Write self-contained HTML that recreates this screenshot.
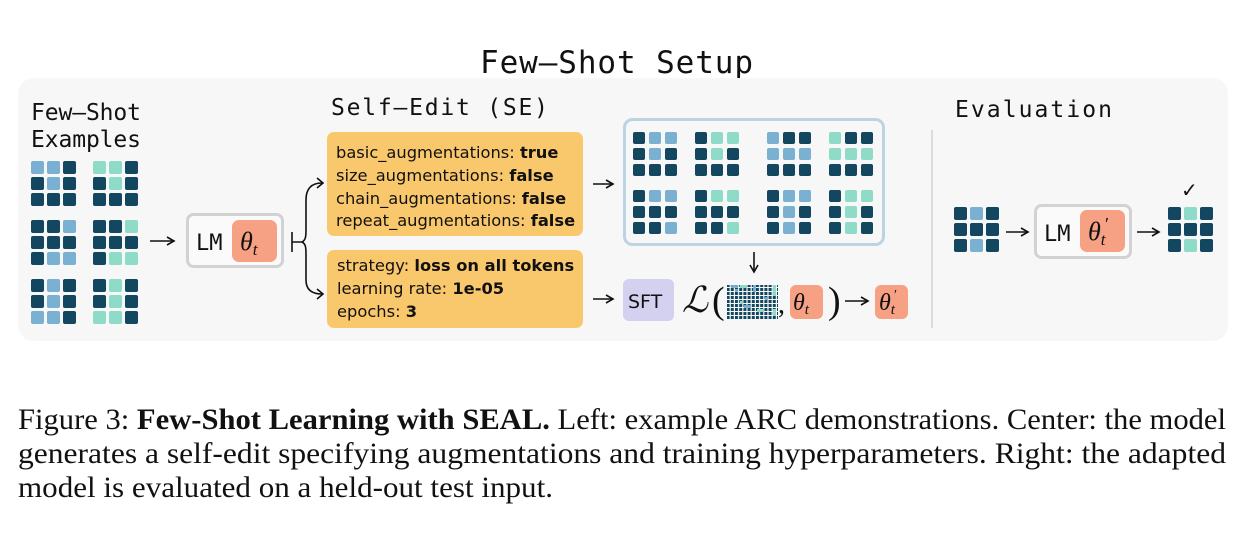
<!DOCTYPE html>
<html><head><meta charset="utf-8"><style>
html,body{margin:0;padding:0;background:#fff;width:1256px;height:533px;overflow:hidden}
.m{font-family:"DejaVu Sans Mono","Liberation Mono",monospace}
.s{font-family:"DejaVu Sans","Liberation Sans",sans-serif}
.r{font-family:"Liberation Serif",serif}
.th{font-family:"Liberation Serif",serif;font-style:italic}
</style></head><body>
<svg width="1256" height="533" viewBox="0 0 1256 533" xmlns="http://www.w3.org/2000/svg">
<defs>
<rect id="D" width="13" height="13" rx="2" fill="#13475f"/>
<rect id="B" width="13" height="13" rx="2" fill="#7ab0d2"/>
<rect id="T" width="13" height="13" rx="2" fill="#8edcc7"/>
<rect id="d" width="12" height="12" rx="2" fill="#13475f"/>
<rect id="b" width="12" height="12" rx="2" fill="#7ab0d2"/>
<rect id="t" width="12" height="12" rx="2" fill="#8edcc7"/>
<pattern id="pg" width="4.2" height="4" patternUnits="userSpaceOnUse"><rect width="3" height="3" fill="#13475f"/></pattern>
<marker id="ah" markerWidth="10" markerHeight="10" refX="8" refY="5" orient="auto" markerUnits="userSpaceOnUse"><path d="M1,1 L8,5 L1,9" fill="none" stroke="#111" stroke-width="1.6"/></marker>
</defs>
<text x="480" y="73" class="m" font-size="31" textLength="273" fill="#111">Few–Shot Setup</text>
<rect x="18" y="78" width="1210" height="263" rx="16" fill="#f7f7f7"/>
<text x="31" y="120" class="m" font-size="23" textLength="110" fill="#111">Few–Shot</text>
<text x="31" y="147" class="m" font-size="23" textLength="110" fill="#111">Examples</text>
<text x="331" y="115" class="m" font-size="23" textLength="217" fill="#111">Self–Edit (SE)</text>
<text x="955" y="117" class="m" font-size="23" textLength="157" fill="#111">Evaluation</text>

<g transform="translate(31,161)"><use href="#B"/><use href="#B" x="16"/><use href="#D" x="32"/><use href="#D" y="16"/><use href="#B" x="16" y="16"/><use href="#D" x="32" y="16"/><use href="#D" y="32"/><use href="#D" x="16" y="32"/><use href="#D" x="32" y="32"/></g>
<g transform="translate(93,161)"><use href="#T"/><use href="#T" x="16"/><use href="#D" x="32"/><use href="#D" y="16"/><use href="#T" x="16" y="16"/><use href="#D" x="32" y="16"/><use href="#D" y="32"/><use href="#D" x="16" y="32"/><use href="#D" x="32" y="32"/></g>
<g transform="translate(31,220)"><use href="#D"/><use href="#D" x="16"/><use href="#B" x="32"/><use href="#D" y="16"/><use href="#D" x="16" y="16"/><use href="#D" x="32" y="16"/><use href="#D" y="32"/><use href="#B" x="16" y="32"/><use href="#B" x="32" y="32"/></g>
<g transform="translate(93,220)"><use href="#D"/><use href="#D" x="16"/><use href="#T" x="32"/><use href="#D" y="16"/><use href="#D" x="16" y="16"/><use href="#D" x="32" y="16"/><use href="#D" y="32"/><use href="#T" x="16" y="32"/><use href="#T" x="32" y="32"/></g>
<g transform="translate(31,279)"><use href="#D"/><use href="#B" x="16"/><use href="#D" x="32"/><use href="#D" y="16"/><use href="#B" x="16" y="16"/><use href="#D" x="32" y="16"/><use href="#B" y="32"/><use href="#B" x="16" y="32"/><use href="#D" x="32" y="32"/></g>
<g transform="translate(93,279)"><use href="#D"/><use href="#T" x="16"/><use href="#D" x="32"/><use href="#D" y="16"/><use href="#T" x="16" y="16"/><use href="#D" x="32" y="16"/><use href="#T" y="32"/><use href="#T" x="16" y="32"/><use href="#D" x="32" y="32"/></g>

<line x1="150" y1="241" x2="174" y2="241" stroke="#111" stroke-width="1.6" marker-end="url(#ah)"/>
<rect x="187.5" y="214.5" width="95" height="52" rx="6" fill="#fafafa" stroke="#d2d2d2" stroke-width="3"/>
<text x="196" y="250" class="m" font-size="22" fill="#111">LM</text>
<rect x="232" y="220" width="45" height="42" rx="7" fill="#f6a084"/>
<text x="240" y="250" class="th" font-size="26" fill="#111">θ<tspan font-size="17" dy="5">t</tspan></text>

<path d="M292,232 L292,252 M292,242 L302,242 C306,240 306,236 306,228 L306,200 C306,188 312,183 322,183 M302,242 C306,244 306,248 306,256 L306,280 C306,290 312,294 322,294" fill="none" stroke="#111" stroke-width="1.6"/>
<path d="M317,178 L323,183 L317,188 M317,289 L323,294 L317,299" fill="none" stroke="#111" stroke-width="1.6"/>

<rect x="327" y="132" width="256" height="104" rx="7" fill="#f9c86c"/>
<g class="s" font-size="16.3" fill="#111">
<text x="336" y="158">basic_augmentations: <tspan font-weight="bold">true</tspan></text>
<text x="336" y="181">size_augmentations: <tspan font-weight="bold">false</tspan></text>
<text x="336" y="204">chain_augmentations: <tspan font-weight="bold">false</tspan></text>
<text x="336" y="226">repeat_augmentations: <tspan font-weight="bold">false</tspan></text>
</g>
<rect x="327" y="250" width="256" height="78" rx="7" fill="#f9c86c"/>
<g class="s" font-size="16.3" fill="#111">
<text x="337" y="271">strategy: <tspan font-weight="bold">loss on all tokens</tspan></text>
<text x="337" y="294">learning rate: <tspan font-weight="bold">1e-05</tspan></text>
<text x="337" y="317">epochs: <tspan font-weight="bold">3</tspan></text>
</g>
<line x1="593" y1="184" x2="613" y2="184" stroke="#111" stroke-width="1.6" marker-end="url(#ah)"/>
<line x1="593" y1="299" x2="613" y2="299" stroke="#111" stroke-width="1.6" marker-end="url(#ah)"/>

<rect x="624.5" y="119.5" width="259" height="125" rx="8" fill="#f7f7f7" stroke="#bcd3e2" stroke-width="3"/>
<g transform="translate(633,132)"><use href="#d"/><use href="#b" x="16"/><use href="#b" x="32"/><use href="#d" y="16"/><use href="#b" x="16" y="16"/><use href="#d" x="32" y="16"/><use href="#d" y="32"/><use href="#d" x="16" y="32"/><use href="#d" x="32" y="32"/></g>
<g transform="translate(695,132)"><use href="#d"/><use href="#t" x="16"/><use href="#t" x="32"/><use href="#d" y="16"/><use href="#t" x="16" y="16"/><use href="#d" x="32" y="16"/><use href="#d" y="32"/><use href="#d" x="16" y="32"/><use href="#d" x="32" y="32"/></g>
<g transform="translate(767,132)"><use href="#b"/><use href="#d" x="16"/><use href="#d" x="32"/><use href="#b" y="16"/><use href="#b" x="16" y="16"/><use href="#b" x="32" y="16"/><use href="#d" y="32"/><use href="#d" x="16" y="32"/><use href="#d" x="32" y="32"/></g>
<g transform="translate(829,132)"><use href="#t"/><use href="#d" x="16"/><use href="#d" x="32"/><use href="#t" y="16"/><use href="#t" x="16" y="16"/><use href="#t" x="32" y="16"/><use href="#d" y="32"/><use href="#d" x="16" y="32"/><use href="#d" x="32" y="32"/></g>
<g transform="translate(633,190)"><use href="#d"/><use href="#b" x="16"/><use href="#b" x="32"/><use href="#d" y="16"/><use href="#d" x="16" y="16"/><use href="#d" x="32" y="16"/><use href="#d" y="32"/><use href="#d" x="16" y="32"/><use href="#b" x="32" y="32"/></g>
<g transform="translate(695,190)"><use href="#d"/><use href="#t" x="16"/><use href="#t" x="32"/><use href="#d" y="16"/><use href="#d" x="16" y="16"/><use href="#d" x="32" y="16"/><use href="#d" y="32"/><use href="#d" x="16" y="32"/><use href="#t" x="32" y="32"/></g>
<g transform="translate(767,190)"><use href="#d"/><use href="#b" x="16"/><use href="#b" x="32"/><use href="#d" y="16"/><use href="#b" x="16" y="16"/><use href="#d" x="32" y="16"/><use href="#d" y="32"/><use href="#b" x="16" y="32"/><use href="#d" x="32" y="32"/></g>
<g transform="translate(829,190)"><use href="#d"/><use href="#t" x="16"/><use href="#t" x="32"/><use href="#d" y="16"/><use href="#t" x="16" y="16"/><use href="#d" x="32" y="16"/><use href="#d" y="32"/><use href="#t" x="16" y="32"/><use href="#d" x="32" y="32"/></g>

<line x1="754" y1="252" x2="754" y2="272" stroke="#111" stroke-width="1.6" marker-end="url(#ah)"/>

<rect x="623" y="279" width="51" height="42" rx="6" fill="#d3d0f0"/>
<text x="628" y="308" class="s" font-size="19" fill="#111">SFT</text>
<text x="682" y="312" class="th" font-size="36" fill="#111">ℒ</text>
<text x="712" y="313" class="r" font-size="38" fill="#111">(</text>
<rect x="727" y="285" width="51" height="34" fill="url(#pg)"/>
<g fill="#7ab0d2" opacity="0.9"><rect x="731" y="285" width="7" height="3"/><rect x="735" y="289" width="3" height="3"/><rect x="753" y="285" width="3" height="7"/><rect x="744" y="305" width="7" height="3"/><rect x="765" y="297" width="3" height="3"/></g>
<g fill="#8edcc7"><rect x="740" y="285" width="7" height="3"/><rect x="773" y="285" width="3" height="11"/><rect x="740" y="301" width="3" height="3"/><rect x="757" y="309" width="7" height="3"/><rect x="773" y="309" width="3" height="7"/></g>
<text x="778" y="313" class="r" font-size="28" fill="#111">,</text>
<rect x="790" y="285" width="33" height="34" rx="6" fill="#f6a084"/>
<text x="793" y="310" class="th" font-size="24" fill="#111">θ<tspan font-size="15" dy="4">t</tspan></text>
<text x="828" y="313" class="r" font-size="38" fill="#111">)</text>
<line x1="845" y1="301" x2="868" y2="301" stroke="#111" stroke-width="1.6" marker-end="url(#ah)"/>
<rect x="875" y="285" width="33" height="34" rx="6" fill="#f6a084"/>
<text x="879" y="310" class="th" font-size="24" fill="#111">θ<tspan font-size="15" dy="4">t</tspan></text>
<text x="894" y="299" class="r" font-size="14" fill="#111">′</text>

<line x1="932" y1="130" x2="932" y2="328" stroke="#dcdcdc" stroke-width="2"/>

<g transform="translate(954,207)"><use href="#D"/><use href="#B" x="16"/><use href="#D" x="32"/><use href="#D" y="16"/><use href="#D" x="16" y="16"/><use href="#D" x="32" y="16"/><use href="#D" y="32"/><use href="#B" x="16" y="32"/><use href="#D" x="32" y="32"/></g>
<line x1="1006" y1="232" x2="1028" y2="232" stroke="#111" stroke-width="1.6" marker-end="url(#ah)"/>
<rect x="1035.5" y="205.5" width="95" height="52" rx="6" fill="#fafafa" stroke="#d2d2d2" stroke-width="3"/>
<text x="1044" y="241" class="m" font-size="22" fill="#111">LM</text>
<rect x="1080" y="210" width="45" height="42" rx="7" fill="#f6a084"/>
<text x="1088" y="240" class="th" font-size="26" fill="#111">θ<tspan font-size="17" dy="5">t</tspan></text>
<text x="1105" y="230" class="r" font-size="18" fill="#111">′</text>
<line x1="1137" y1="232" x2="1159" y2="232" stroke="#111" stroke-width="1.6" marker-end="url(#ah)"/>
<g transform="translate(1168,207)"><use href="#D"/><use href="#T" x="16"/><use href="#D" x="32"/><use href="#D" y="16"/><use href="#D" x="16" y="16"/><use href="#D" x="32" y="16"/><use href="#D" y="32"/><use href="#T" x="16" y="32"/><use href="#D" x="32" y="32"/></g>
<text x="1181" y="197" class="s" font-size="20" fill="#111">✓</text>

<g class="r" font-size="30" fill="#111">
<text x="18" y="429" textLength="1208" lengthAdjust="spacingAndGlyphs">Figure 3: <tspan font-weight="bold">Few-Shot Learning with SEAL.</tspan> Left: example ARC demonstrations. Center: the model</text>
<text x="18" y="463" textLength="1208" lengthAdjust="spacingAndGlyphs">generates a self-edit specifying augmentations and training hyperparameters. Right: the adapted</text>
<text x="18" y="497" textLength="535" lengthAdjust="spacingAndGlyphs">model is evaluated on a held-out test input.</text>
</g>
</svg>
</body></html>
